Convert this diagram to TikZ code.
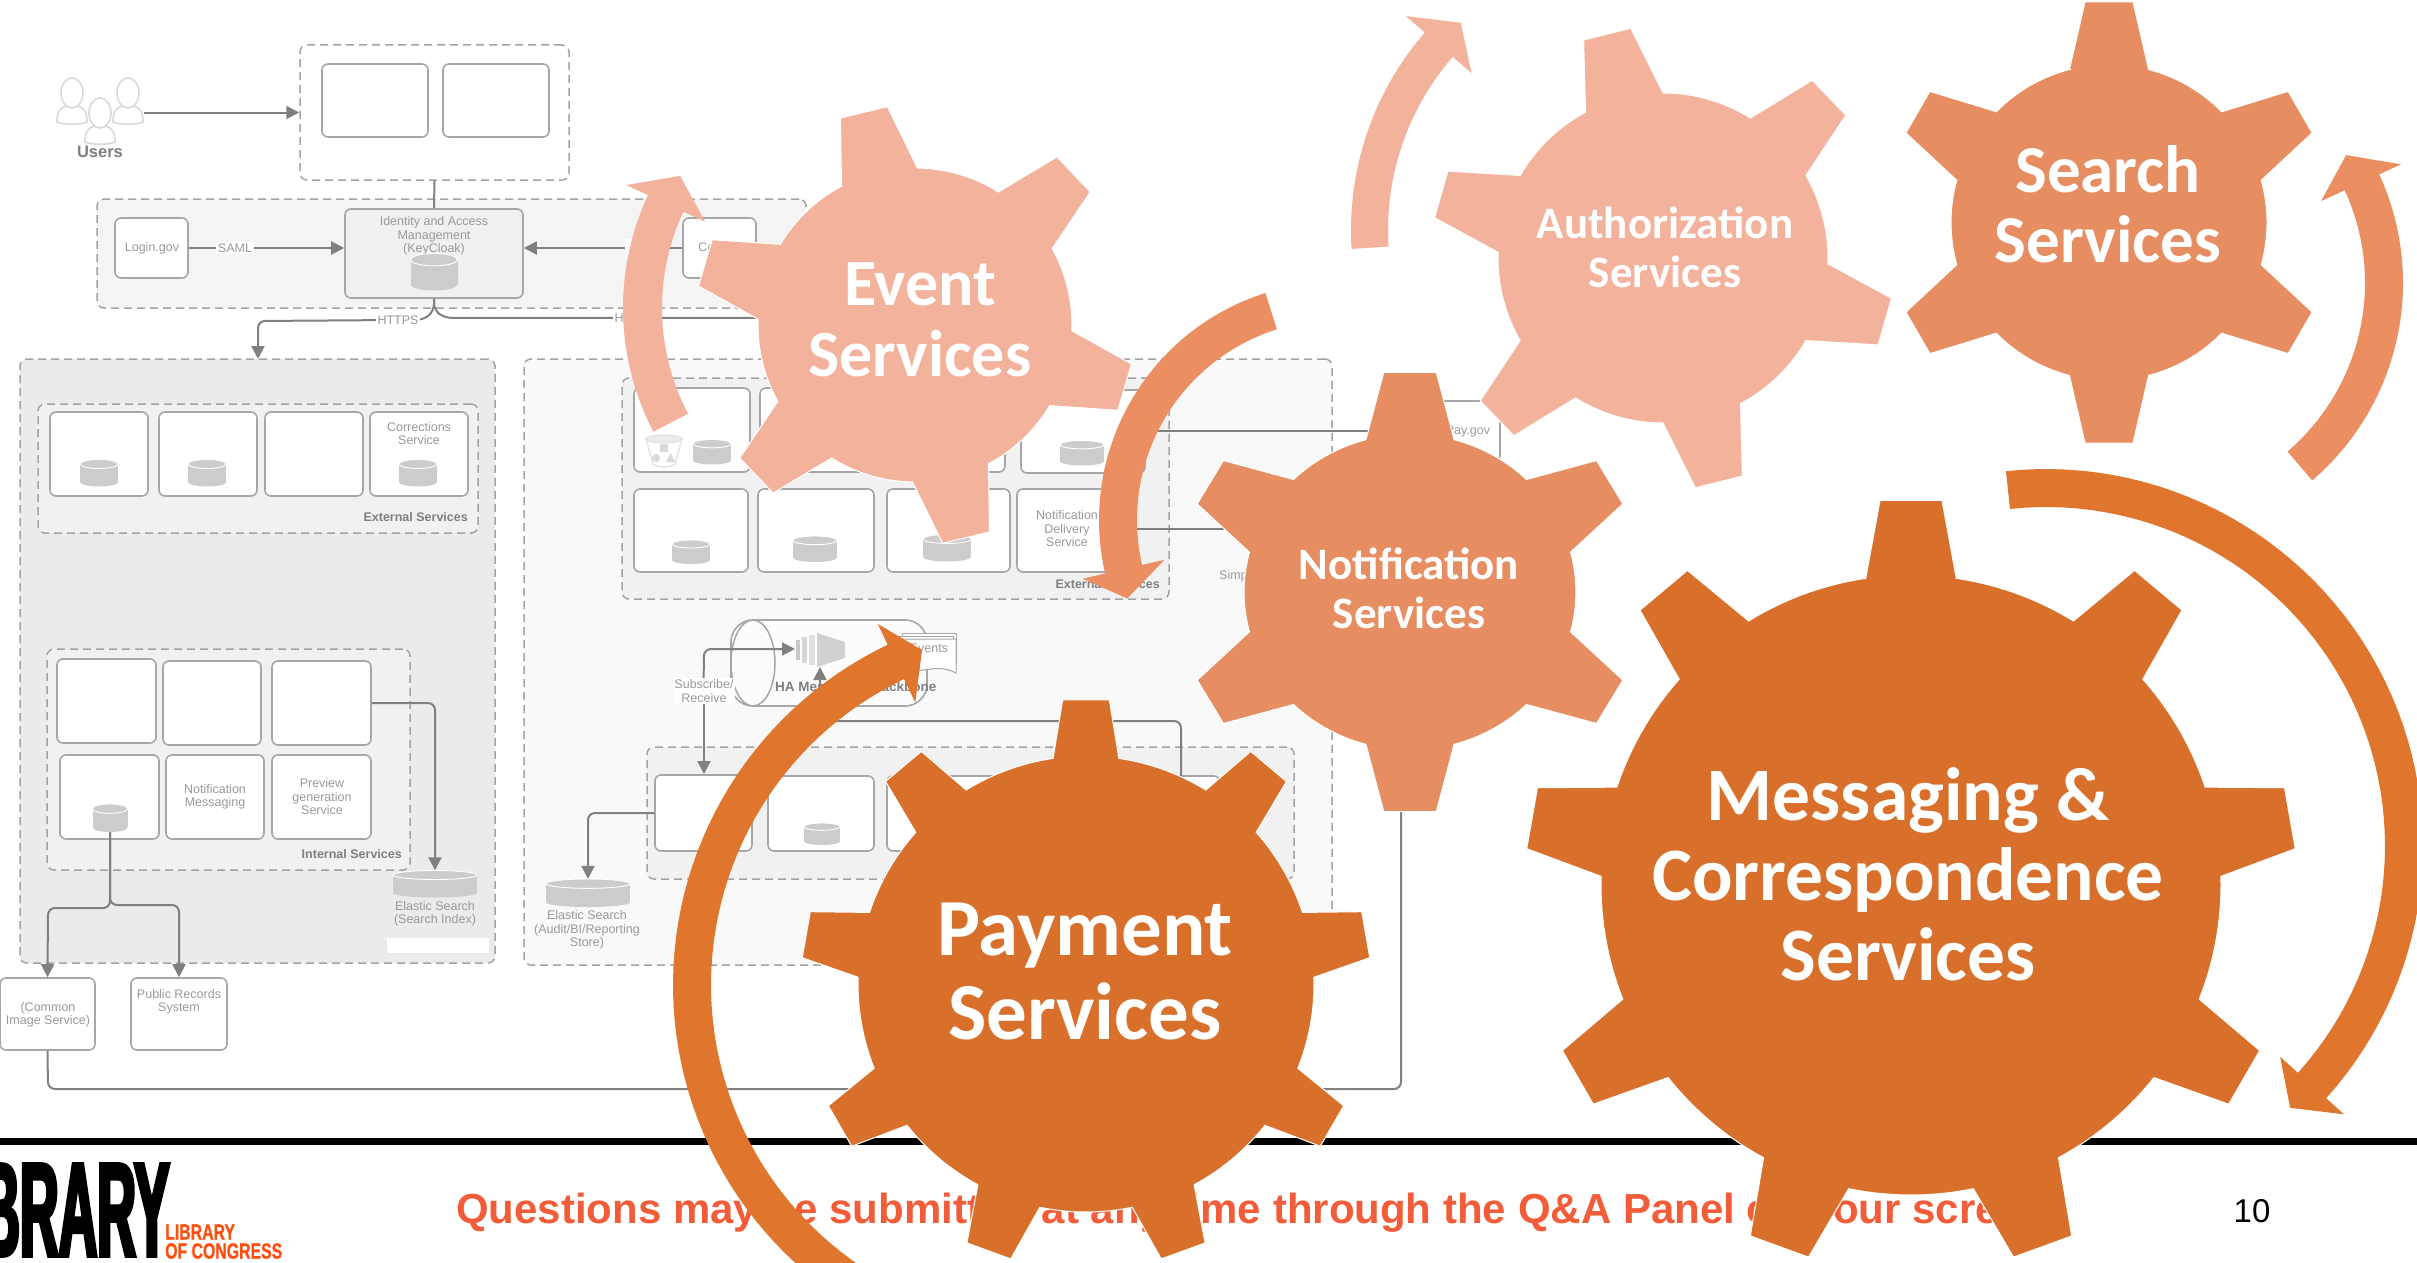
\documentclass[tikz,border=0pt]{standalone}
\usepackage{fontspec}
\usetikzlibrary{arrows.meta,calc}
\setmainfont{Liberation Sans}
\newfontfamily\carl{Carlito}
\newfontfamily\logofont[FakeStretch=0.40,FakeBold=2.5]{Liberation Sans Bold}
\newfontfamily\locfont[FakeStretch=0.72,FakeBold=0.8]{Liberation Sans Bold}
\definecolor{gDark}{HTML}{D8702C}
\definecolor{gMid}{HTML}{E68D61}
\definecolor{gLight}{HTML}{F3B29B}
\definecolor{aDark}{HTML}{E0762E}
\definecolor{aMid}{HTML}{EB8E62}
\definecolor{aLight}{HTML}{F3B29B}
\definecolor{lineG}{HTML}{808080}
\definecolor{boxG}{HTML}{A6A6A6}
\definecolor{dashG}{HTML}{A3A3A3}
\definecolor{txtG}{HTML}{999999}
\definecolor{boldG}{HTML}{7F7F7F}
\definecolor{cylG}{HTML}{CCCCCC}
\definecolor{qRed}{HTML}{F35C38}
\definecolor{locO}{HTML}{FF4F10}
\tikzset{
  bxs/.style={draw=boxG,line width=1.6pt,rounded corners=6pt,fill=white,inner sep=0pt},
  panel/.style={draw=dashG,line width=1.5pt,dash pattern=on 8pt off 5pt,rounded corners=7pt,inner sep=0pt},
  conn/.style={draw=lineG,line width=2pt,rounded corners=7pt},
  arr/.style={-{Triangle[length=13pt,width=13pt]}},
  txt/.style={text=txtG,font=\fontsize{12.5}{13.5}\selectfont,align=center,inner sep=0pt},
  bld/.style={text=boldG,font=\fontsize{12.5}{13.5}\selectfont\bfseries,inner sep=0pt},
  lab/.style={fill=white,text=txtG,font=\fontsize{12.5}{13.5}\selectfont,align=center,inner sep=1.5pt},
  geartext/.style={text=white,align=center,inner sep=0pt},
}
% box from corners
\newcommand\bx[6][]{\node[bxs,minimum width={(#5-#3)*1pt},minimum height={(#6-#4)*1pt},#1] (#2) at ({(#3+#5)/2},{(#4+#6)/2}) {};}
% database cylinder: name, centre x,y, w, h
\newcommand\dbc[5]{%
  \node[inner sep=0pt,minimum width=#4*1pt,minimum height=#5*1pt] (#1) at (#2,#3) {};
  \fill[cylG] ({#2-#4/2},{#3-#5/2+#5/6}) rectangle ({#2+#4/2},{#3+#5/2-#5/6});
  \fill[cylG] (#2,{#3+#5/2-#5/6}) ellipse[x radius=#4*0.5pt,y radius=#5*0.1667pt];
  \filldraw[fill=cylG,draw=white,line width=0.9pt] (#2,{#3-#5/2+#5/6}) ellipse[x radius=#4*0.5pt,y radius=#5*0.1667pt];
}
\newcommand\person[2]{%
  \filldraw[fill=white,draw=black!15,line width=1.6pt] ({#1-15},{#2+29}) .. controls ({#1-15},{#2+14}) and ({#1-8},{#2+13}) .. (#1,{#2+13}) .. controls ({#1+8},{#2+13}) and ({#1+15},{#2+14}) .. ({#1+15},{#2+29}) .. controls ({#1+8},{#2+32}) and ({#1-8},{#2+32}) .. ({#1-15},{#2+29}) -- cycle;
  \filldraw[fill=white,draw=black!15,line width=1.6pt] (#1,#2) ellipse[x radius=11pt,y radius=15pt];
}
% gear: colour, cx, cy, R, r, n, rot, tip half angle, base half angle; \gsx = horizontal stretch
\def\gsx{1}
\newcommand\gear[9]{%
  \path[fill=#1,draw=white,line width=1pt]
   ({#2+\gsx*#5*sin(#7-#9)},{#3-#5*cos(#7-#9)})
   \foreach \i [evaluate=\i as \gt using {#7+(\i-1)*360/#6}] in {1,...,#6}{
     -- ({#2+\gsx*#4*sin(\gt-#8)},{#3-#4*cos(\gt-#8)})
     -- ({#2+\gsx*#4*sin(\gt+#8)},{#3-#4*cos(\gt+#8)})
     -- ({#2+\gsx*#5*sin(\gt+#9)},{#3-#5*cos(\gt+#9)})
     -- plot[domain=\gt+#9:\gt+360/#6-#9,samples=16] ({#2+\gsx*#5*sin(\x)},{#3-#5*cos(\x)})
   } -- cycle;
}
% circular arrow
\newcommand\arcarrow[9]{\def\aC{#1}\def\aX{#2}\def\aY{#3}\def\aI{#4}\def\aO{#5}\def\aT{#6}\def\aN{#7}\def\aHI{#8}\def\aHO{#9}\arcarrowb}
\newcommand\arcarrowb[2]{%
  \fill[\aC] plot[domain=\aT:\aN,samples=60] ({\aX+\aO*cos(\x)},{\aY+\aO*sin(\x)})
   -- ({\aX+\aHO*cos(\aN)},{\aY+\aHO*sin(\aN)})
   -- ({\aX+#2*cos(#1)},{\aY+#2*sin(#1)})
   -- ({\aX+\aHI*cos(\aN)},{\aY+\aHI*sin(\aN)})
   -- plot[domain=\aN:\aT,samples=60] ({\aX+\aI*cos(\x)},{\aY+\aI*sin(\x)}) -- cycle;
}
\begin{document}
\begin{tikzpicture}[x=1pt,y=-1pt]
\useasboundingbox (0,0) rectangle (2417,1263);
\clip (0,0) rectangle (2417,1263);
\fill[white] (0,0) rectangle (2417,1263);

% ---------- background architecture diagram ----------
\node[panel,minimum width=269pt,minimum height=135pt] (webP) at (434.5,112.5) {};
\bx{webA}{322}{64}{428}{137}
\bx{webB}{443}{64}{549}{137}

\person{72}{93}\person{128}{93}\person{100}{113}
\coordinate (usersR) at (144,112.5);
\node[bld,font=\fontsize{16.5}{18}\selectfont\bfseries] (users) at (100,152) {Users};

\node[panel,fill=black!4.5,minimum width=709pt,minimum height=109pt] (authP) at (451.5,253.5) {};
\bx{login}{115}{218}{188}{278}
\node[txt] (loginT) at (152,248) {Login.gov};
\bx[fill=black!6]{iam}{345}{209}{523}{298}
\node[txt] (iamT) at (434,236) {Identity and Access\\Management\\(KeyCloak)};
\dbc{iamDb}{434}{272}{47}{37}
\bx{contr}{683}{218}{756}{278}
\node[txt] (contrT) at (720,248) {Contrify};

\node[panel,fill=black!8,minimum width=475pt,minimum height=604pt] (extP) at (257.5,661) {};
\node[panel,fill=black!5.5,minimum width=440pt,minimum height=129pt] (extS) at (258,468.5) {};
\bx{e1}{50}{412}{148}{496}
\bx{e2}{159}{412}{257}{496}
\bx{e3}{265}{412}{363}{496}
\bx{e4}{370}{412}{468}{496}
\node[txt] (corrT) at (419,433.5) {Corrections\\Service};
\dbc{e1D}{99}{473}{38}{27}
\dbc{e2D}{207}{473}{38}{27}
\dbc{e4D}{418}{473}{38}{27}
\node[bld,anchor=east] (extLbl) at (468,517) {External Services};

\node[panel,fill=black!5.5,minimum width=363pt,minimum height=221pt] (intS) at (228.5,759.5) {};
\bx{i1}{57}{659}{156}{743}
\bx{i2}{163}{661}{261}{745}
\bx{i3}{272}{661}{371}{745}
\bx{i4}{60}{755}{159}{839}
\bx{i5}{166}{755}{264}{839}
\bx{i6}{272}{755}{371}{839}
\dbc{i4D}{110}{818}{35}{28}
\node[txt] (i5T) at (215,797) {Notification\\Messaging};
\node[txt] (i6T) at (322,797) {Preview\\generation\\Service};
\node[bld,anchor=east] (intLbl) at (402,854) {Internal Services};
\dbc{esD}{435}{884}{84}{27}
\node[txt] (esT) at (435,914) {Elastic Search\\(Search Index)};
\fill[white] (387,938) rectangle (489,953);
\bx[draw=black!35]{cis}{0}{978}{95}{1050}
\bx[draw=black!35]{prs}{131}{978}{227}{1050}
\node[txt] (cisT) at (48,1015) {(Common\\Image Service)};
\node[txt] (prsT) at (179,1002) {Public Records\\System};

\node[panel,fill=black!2.5,minimum width=808pt,minimum height=606pt] (mainP) at (928,662) {};
\node[panel,fill=black!5.5,minimum width=547pt,minimum height=221pt] (topS) at (895.5,488.5) {};
\bx{t1}{634}{388}{750}{472}
\bx{t2}{760}{388}{1005}{472}
\bx{t3}{1021}{390}{1145}{473}
\bx{t4}{634}{489}{748}{572}
\bx{t5}{758}{489}{874}{572}
\bx{t6}{887}{489}{1010}{572}
\bx{t7}{1017}{489}{1135}{572}
\dbc{t1D}{712}{452}{38}{25}
% bucket
\filldraw[fill=white,draw=black!12,line width=1.2pt] (646,439) -- (653,464) .. controls (658,468) and (670,468) .. (675,464) -- (682,439) -- cycle;
\filldraw[fill=black!8,draw=black!12,line width=1pt] (664,439) ellipse[x radius=18pt,y radius=4pt];
\fill[black!15] (660,444) rectangle (668,452);
\fill[black!15] (656,458) circle[radius=4pt];
\fill[black!15] (666,462) -- (675,462) -- (670.5,453) -- cycle;
\dbc{t3D}{1082}{453}{44}{25}
\dbc{t4D}{691}{552}{38}{24}
\dbc{t5D}{815}{549}{44}{26}
\dbc{t6D}{947}{548}{48}{27}
\node[txt] (t7T) at (1067,529) {Notification\\Delivery\\Service};
\node[bld,anchor=east] (topLbl) at (1160,584) {External Services};
\bx{pay}{1427}{401}{1500}{461}
\node[txt] (payT) at (1468,431) {Pay.gov};
\node[txt,anchor=west] (simpT) at (1219,576) {Simple};

% messaging backbone
\node[bxs,fill=black!1,rounded corners=22pt,minimum width=196pt,minimum height=86pt] (ha) at (829,663) {};
\filldraw[fill=black!1,draw=boxG,line width=1.5pt] (753,663) ellipse[x radius=22pt,y radius=43pt];
\fill[black!22] (796,640) rectangle (800,660);
\fill[black!16] (802,637) rectangle (807,663);
\fill[black!12] (809,635) rectangle (815,665);
\fill[black!18] (817,633) -- (845,642) -- (845,658) -- (817,667) -- cycle;
\foreach \s in {6,3,0}{\filldraw[fill=white,draw=boxG,line width=1pt] ({896+\s},{639-\s}) rectangle ({950+\s},{668-\s});}
\filldraw[fill=white,draw=boxG,line width=1pt] (902,639) -- (956,639) -- (956,673) .. controls (935,662) and (920,676) .. (902,668) -- cycle;
\node[txt] (evT) at (929,648) {Events};
\node[bld,font=\fontsize{13.5}{14}\selectfont\bfseries,anchor=west] (haT) at (775,688) {HA Messaging Backbone};
\coordinate (icon) at (795,649);
\coordinate (iconB) at (820,667);
\coordinate (haS) at (820,688);

\node[panel,fill=black!5.5,minimum width=647pt,minimum height=132pt] (botS) at (970.5,813) {};
\bx{b1}{655}{775}{752}{851}
\bx{b2}{768}{776}{874}{851}
\bx{b3}{887}{776}{1220}{851}
\dbc{b2D}{822}{834}{36}{22}
\dbc{es2D}{588}{893}{84}{28}
\node[txt] (es2T) at (587,930) {Elastic Search\\(Audit/BI/Reporting\\Store)};

% connectors
\draw[conn,arr] (usersR) -- (webP.west);
\draw[conn] (webP.south) -- (iam.north);
\draw[conn,arr] (login.east) -- (iam.west |- login.east);
\draw[conn,arr] (contr.west) -- (iam.east |- contr.west);
\node[lab] (samlT) at (235,248) {SAML};
\node[fill=white,inner sep=0pt,minimum width=40pt,minimum height=18pt] (https2a) at (645,248) {};
\draw[conn,arr] (iam.south) -- ++(0,12) -- ++(-10,9) -- (258,321) -- (258,359);
\draw[conn] (iam.south) -- ++(0,11) -- ++(10,8) -- (760,318);
\node[lab] (httpsA) at (398,320) {HTTPS};
\node[lab,anchor=west] (httpsB) at (613,318) {HTTPS};
\draw[conn,arr] (i3.east) -- (435,703) -- (esD.north);
\draw[conn,arr] (i4D.south) -- (110,908) -- (48,908) -- (cis.north);
\draw[conn,arr] (i4D.south) -- (110,905) -- (179,905) -- (prs.north);
\draw[conn] (cis.south) -- (48,1089) -- (1401,1089) -- (1401,780);
\draw[conn] (t3.east |- 0,431) -- (pay.west |- 0,431);
\draw[conn] (t7.east |- 0,529) -- (1260,529);
\draw[conn,arr] (b1.north |- 0,691) -- (704,649) -- (icon);
\draw[conn,arr] (704,691) -- (704,774);
\node[lab] (subT) at (704,691) {Subscribe/\\Receive};
\draw[conn,arr] (haS) -- (iconB);
\draw[conn] (830,721) -- (1181,721) -- (1181,776);
\draw[conn,arr] (b1.west) -- (588,813) -- (es2D.north);

% ---------- footer ----------
\fill[black] (0,1138) rectangle (2417,1145);
\node[anchor=east,inner sep=0pt,font=\fontsize{134}{134}\logofont,text=black] (bigLogo) at (170,1210) {BRARY};
\node[anchor=west,inner sep=0pt,font=\fontsize{22}{22}\locfont,text=locO] (loc1) at (165,1232) {LIBRARY};
\node[anchor=west,inner sep=0pt,font=\fontsize{22}{22}\locfont,text=locO] (loc2) at (165,1251) {OF CONGRESS};
\node[anchor=west,inner sep=0pt,font=\fontsize{42}{42}\selectfont\bfseries,text=qRed] (q) at (456,1213) {Questions may be submitted at any time through the Q\&A Panel on your screen};
\node[inner sep=0pt,font=\fontsize{33}{33}\selectfont,text=black] (pg) at (2252,1211) {10};

% ---------- overlaid arrows ----------
\arcarrow{aLight}{890}{308}{228}{267}{152.4}{205}{204}{291}{212.2}{248}
\arcarrow{aMid}{1337}{520}{200}{238}{252.5}{167}{177}{261}{159.5}{224}
\arcarrow{aDark}{1050}{985}{339}{377}{115}{244.5}{313}{400}{249.1}{358.6}
\arcarrow{aLight}{1652}{230}{264}{301}{176.4}{221}{239}{326}{227.3}{282}
\arcarrow{aMid}{2143}{283}{222}{260}{49.4}{-24.7}{196}{284}{-32.2}{240}
\arcarrow{aDark}{2046}{846}{339}{377}{-96.1}{42}{315}{401}{47}{358}

% ---------- gears ----------
\gear{gLight}{915}{325}{220}{157}{6}{-13.5}{6.3}{14.4}
\gear{gLight}{1663}{258}{232}{165}{6}{-14}{6}{14}
\gear{gMid}{2109}{222.5}{222}{158}{6}{0}{6.2}{14.5}
\def\gsx{1.05}
\gear{gMid}{1410}{592}{221}{158}{6}{0}{6.5}{15.4}
\def\gsx{1}
\gear{gDark}{1086}{984}{285}{228}{9}{0}{4.7}{8.3}
\gear{gDark}{1911}{885}{386}{310}{9}{0}{4.6}{8.4}

\node[geartext,font=\fontsize{66}{71}\carl\bfseries] (gEvent) at (920,320) {Event\\Services};
\node[geartext,font=\fontsize{45}{49}\carl\bfseries] (gAuth) at (1665,247) {Authorization\\Services};
\node[geartext,font=\fontsize{67}{70}\carl\bfseries] (gSearch) at (2108,204) {Search\\Services};
\node[geartext,font=\fontsize{45}{49}\carl\bfseries] (gNotif) at (1409,588) {Notification\\Services};
\node[geartext,font=\fontsize{81}{84}\carl\bfseries] (gPay) at (1085,972) {Payment\\Services};
\node[geartext,font=\fontsize{75.5}{80}\carl\bfseries] (gMsg) at (1908,874) {Messaging \&\\Correspondence\\Services};
\end{tikzpicture}
\end{document}
